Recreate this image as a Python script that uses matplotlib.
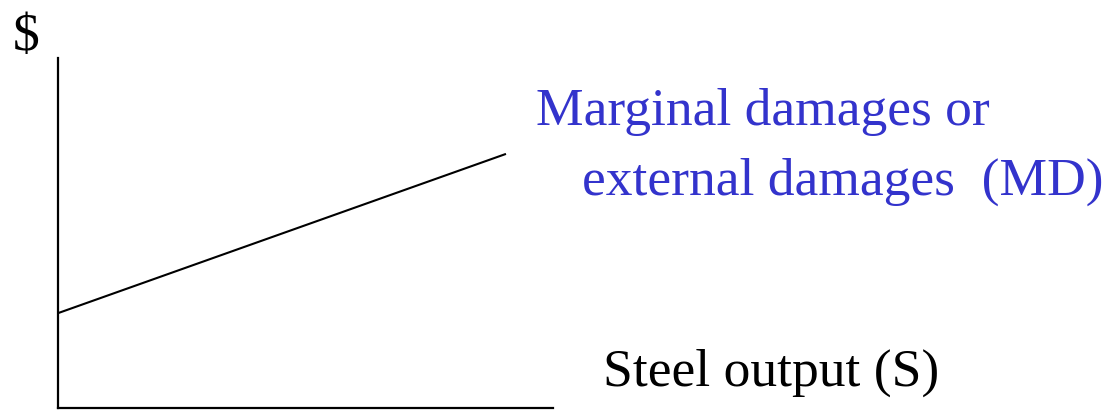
import matplotlib.pyplot as plt

plt.rcParams['font.family'] = ['Liberation Serif', 'DejaVu Serif']

# Marginal damages curve (steel output vs. $)
output = [0, 9.05]
damages = [2.71, 7.26]

md_label = ['Marginal damages or', 'external damages  (MD)']
x_label = 'Steel output (S)'
y_label = '$'

W, H = 1112, 416
fig = plt.figure(figsize=(W / 100, H / 100), dpi=100)
ax = fig.add_axes([58 / W, 8 / H, 495 / W, 350 / H])

ax.plot(output, damages, color='black', linewidth=1.5, solid_capstyle='butt')

ax.set_xlim(0, 10)
ax.set_ylim(0, 10)
for side in ['top', 'right']:
    ax.spines[side].set_visible(False)
for side in ['left', 'bottom']:
    ax.spines[side].set_linewidth(1.6)
ax.set_xticks([])
ax.set_yticks([])

blue = '#3333cc'
fs = 38.5

# text placed in pixel positions (baseline, left edge)
def put(x, y, s, **kw):
    fig.text(x / W, 1 - y / H, s, fontsize=fs, ha='left', va='baseline', **kw)

put(13, 50, y_label)
put(536, 125, md_label[0], color=blue)
put(582, 195, md_label[1], color=blue)
put(603, 386, x_label)

fig.savefig('out.png', dpi=100)
